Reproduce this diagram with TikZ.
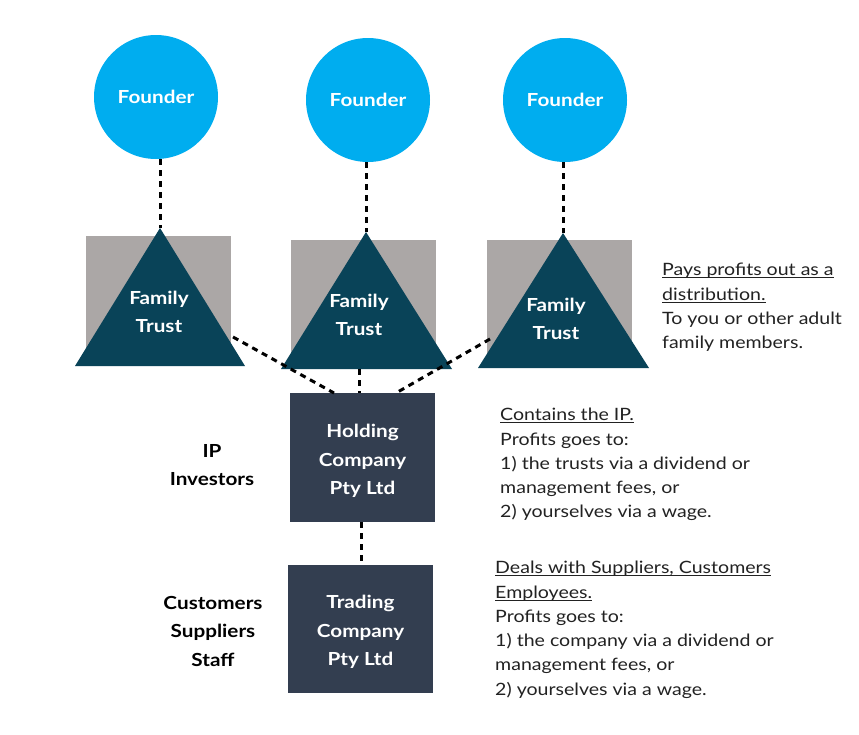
\documentclass[tikz,border=0pt]{standalone}
\usepackage{fontspec}
\setmainfont{Lato}[FakeStretch=1.15]
\definecolor{fcyan}{RGB}{0,173,239}
\definecolor{tteal}{RGB}{9,67,88}
\definecolor{tgray}{RGB}{171,167,166}
\definecolor{cbox}{RGB}{51,62,80}
\definecolor{dtext}{RGB}{34,34,34}
\newcommand{\myul}[1]{\setbox0=\hbox{#1}\rlap{\rule[-2.6pt]{\wd0}{1.1pt}}\box0}
\tikzset{
  founder/.style={circle, fill=fcyan, minimum size=124pt, inner sep=0pt, text=white, font=\fontsize{18}{22}\selectfont\bfseries},
  trustbg/.style={fill=tgray},
  trusttri/.style={fill=tteal},
  trusttext/.style={text=white, align=center, font=\fontsize{18}{28}\selectfont\bfseries},
  company/.style={rectangle, fill=cbox, minimum width=145pt, minimum height=128pt, inner sep=0pt},
  boxtext/.style={text=white, align=center, inner sep=0pt, font=\fontsize{18}{28.5}\selectfont\bfseries},
  sidelabel/.style={align=center, text=black, font=\fontsize{18}{28.5}\selectfont\bfseries},
  note/.style={align=left, anchor=north west, inner sep=0pt, text=dtext, font=\fontsize{17}{24.3}\selectfont},
  dashline/.style={line width=3pt, dash pattern=on 6pt off 5pt, draw=black}
}
\begin{document}
\begin{tikzpicture}[x=1pt,y=-1pt]
\useasboundingbox[fill=white] (0,0) rectangle (859,734);

% founders
\node[founder] (f1) at (156,97) {Founder};
\node[founder] (f2) at (368,100) {Founder};
\node[founder] (f3) at (565,100) {Founder};

% trusts: grey squares and triangles
\fill[trustbg] (86,236) rectangle (231,366);
\fill[trustbg] (291,240) rectangle (436,369);
\fill[trustbg] (487,240) rectangle (632,368);

\coordinate (t1a) at (160,228);
\coordinate (t2a) at (366,232);
\coordinate (t3a) at (563,233);
\fill[trusttri] (t1a) -- (75,366) -- (245,366) -- cycle;
\fill[trusttri] (t2a) -- (281,369) -- (452,369) -- cycle;
\fill[trusttri] (t3a) -- (478,368) -- (649,368) -- cycle;

\node[trusttext] (t1) at (159,312) {Family\\Trust};
\node[trusttext] (t2) at (359,315) {Family\\Trust};
\node[trusttext] (t3) at (556,319) {Family\\Trust};

% companies
\node[company, minimum height=129pt] (h) at (362.5,457.5) {};
\node[boxtext] (ht) at ([yshift=-3.5pt]h.center) {Holding\\Company\\Pty Ltd};
\node[company] (tr) at (360.5,629) {};
\node[boxtext] (trt) at ([yshift=-3pt]tr.center) {Trading\\Company\\Pty Ltd};

% side labels
\node[sidelabel] (ip) at (212,465) {IP\\Investors};
\node[sidelabel] (cs) at (213,631) {Customers\\Suppliers\\Staff};

% connector points
\coordinate (t1r) at (233,337);
\coordinate (t2b) at (359,369);
\coordinate (t3l) at (490,339);
\coordinate (h1) at (334,393);
\coordinate (h2) at (359,393);
\coordinate (h3) at (396,393);

% connectors
\draw[dashline] (t1a |- f1.south) -- (t1a);
\draw[dashline] (t2a |- f2.south) -- (t2a);
\draw[dashline] (t3a |- f3.south) -- (t3a);
\draw[dashline] (t1r) -- (h1);
\draw[dashline] (t2b) -- (h2);
\draw[dashline] (t3l) -- (h3);
\draw[dashline] (h.south -| 361,0) -- (tr.north -| 361,0);

% notes
\node[note] (n1) at (662,263) {\myul{Pays profits out as a}\\\myul{distribution.}\\To you or other adult\\family members.};
\node[note] (n2) at (500,408) {\myul{Contains the IP.}\\Profits goes to:\\1) the trusts via a dividend or\\management fees, or\\2) yourselves via a wage.};
\node[note] (n3) at (495,561) {\myul{Deals with Suppliers, Customers}\\\myul{Employees.}\\Profits goes to:\\1) the company via a dividend or\\management fees, or\\2) yourselves via a wage.};
\end{tikzpicture}
\end{document}
